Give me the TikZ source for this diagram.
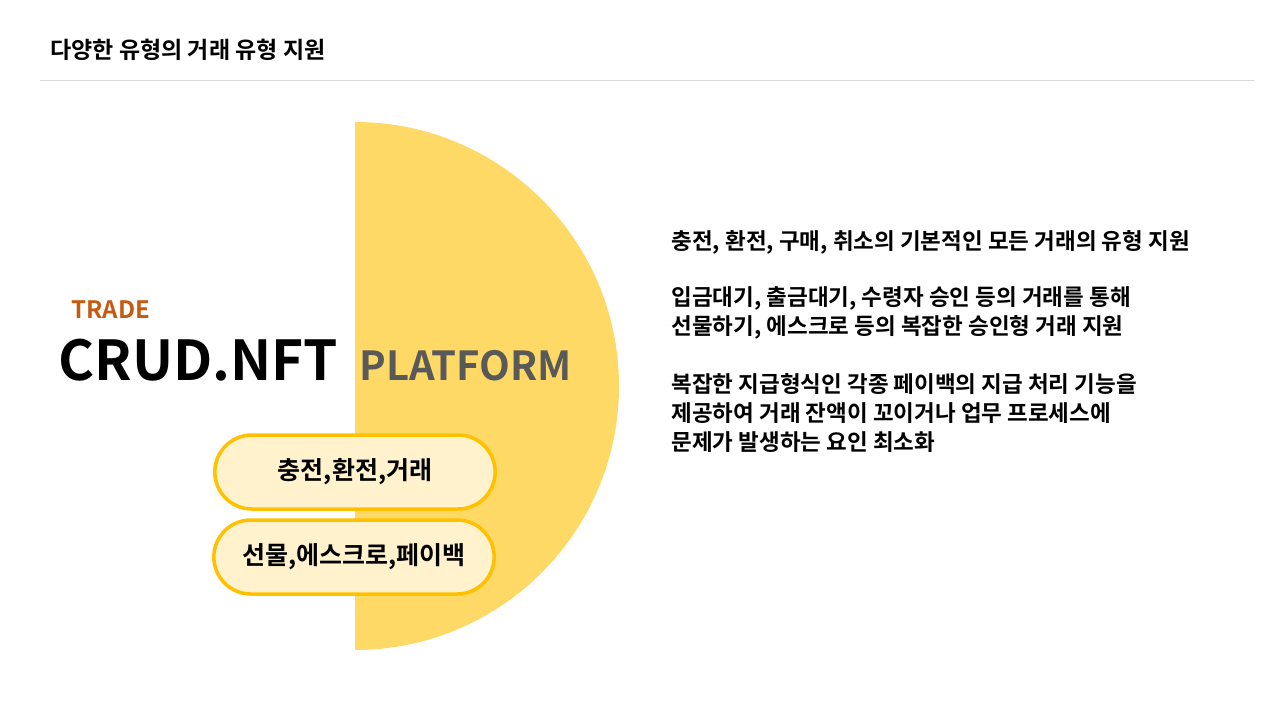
\documentclass[tikz,border=0pt]{standalone}
\usepackage{fontspec}
\setmainfont{Noto Sans CJK KR}[BoldFont={* Bold}]
\definecolor{gold}{HTML}{FFD966}
\definecolor{pillfill}{HTML}{FFF2CC}
\definecolor{pillline}{HTML}{FFC000}
\definecolor{trade}{HTML}{C55A11}
\definecolor{platform}{HTML}{595959}
\definecolor{rule}{HTML}{D9D9D9}
\tikzset{
  pill/.style={draw=pillline, fill=pillfill, line width=3.5pt, rounded rectangle,
    minimum width=287pt, minimum height=74pt, font=\bfseries\fontsize{25}{29}\selectfont},
  body/.style={anchor=west, align=left, font=\bfseries\fontsize{22.5}{29}\selectfont}
}
\usetikzlibrary{shapes.misc}
\begin{document}
\begin{tikzpicture}[x=1pt, y=-1pt]
		\useasboundingbox (0,0) rectangle (1280,720);
		\node[anchor=west, font=\bfseries\fontsize{23}{27}\selectfont] (title) at (47,50) {다양한 유형의 거래 유형 지원};
		\draw[rule, line width=1pt] (40,80) -- (1254,80);
		\fill[gold] (355,650) arc[start angle=90, end angle=-90, radius=264] -- cycle;
		\node[anchor=west, text=trade, font=\bfseries\fontsize{24}{28}\selectfont] (trade) at (68,310) {TRADE};
		\node[anchor=west, font=\bfseries\fontsize{55}{60}\selectfont] (crud) at (55,360) {CRUD.NFT};
		\node[anchor=west, text=platform, font=\bfseries\fontsize{40}{45}\selectfont] (plat) at (356,366) {PLATFORM};
		\node[pill] (charge) at (355,472) {충전,환전,거래};
		\node[pill] (gift) at (354,557) {선물,에스크로,페이백};
		\node[body] (basic) at (668,242) {충전, 환전, 구매, 취소의 기본적인 모든 거래의 유형 지원};
		\node[body] (escrow) at (668,312.5) {입금대기, 출금대기, 수령자 승인 등의 거래를 통해\\선물하기, 에스크로 등의 복잡한 승인형 거래 지원};
		\node[body] (payback) at (668,413) {복잡한 지급형식인 각종 페이백의 지급 처리 기능을\\제공하여 거래 잔액이 꼬이거나 업무 프로세스에\\문제가 발생하는 요인 최소화};
\end{tikzpicture}
\end{document}
